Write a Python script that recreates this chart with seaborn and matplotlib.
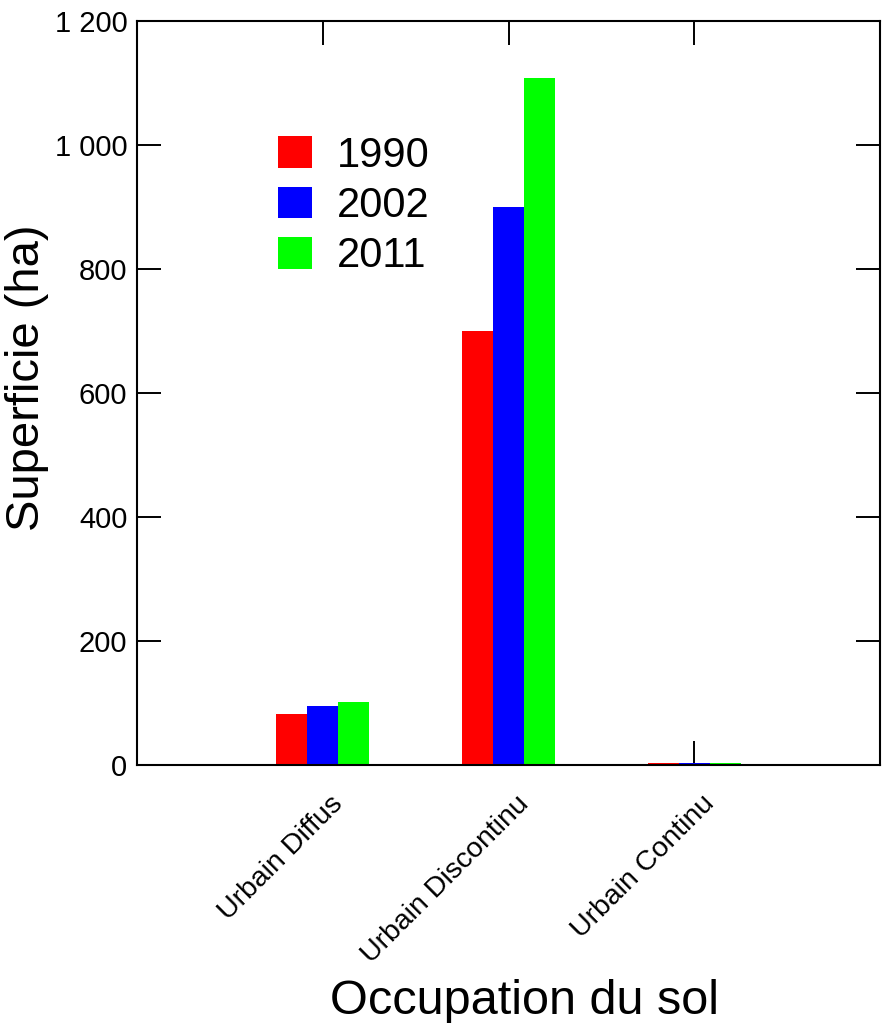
import matplotlib
matplotlib.use("Agg")
import matplotlib.pyplot as plt
import matplotlib.transforms as mtransforms
from matplotlib.ticker import FuncFormatter
import seaborn as sns
import pandas as pd

# Land-use categories and areas (ha) per survey year
categories = ["Urbain Diffus", "Urbain Discontinu", "Urbain Continu"]
years = ["1990", "2002", "2011"]
area_1990 = [82, 700, 3.0]
area_2002 = [95, 900, 2.5]
area_2011 = [101, 1108, 3.0]
colors = ["#ff0000", "#0000ff", "#00ff00"]
y_ticks = [0, 200, 400, 600, 800, 1000, 1200]

rows = []
for year, values in zip(years, [area_1990, area_2002, area_2011]):
    for cat, v in zip(categories, values):
        rows.append({"Occupation": cat, "Année": year, "Superficie": v})
df = pd.DataFrame(rows)

sns.set_theme(style="white")
plt.rcParams["font.family"] = ["Liberation Sans", "DejaVu Sans"]
plt.rcParams["text.color"] = "black"
plt.rcParams["axes.labelcolor"] = "black"
plt.rcParams["xtick.color"] = "black"
plt.rcParams["ytick.color"] = "black"

fig = plt.figure(figsize=(8.85, 10.23), dpi=100)
ax = fig.add_axes([0.1548, 0.2522, 0.8396, 0.7273])

sns.barplot(data=df, x="Occupation", y="Superficie", hue="Année",
            order=categories, hue_order=years, palette=colors,
            width=0.5, gap=0, saturation=1, linewidth=0, ax=ax)

ax.set_xlim(-1, 3)
ax.set_ylim(0, 1200)
ax.set_yticks(y_ticks)
ax.yaxis.set_major_formatter(FuncFormatter(lambda v, p: f"{int(v):,}".replace(",", " ")))

for s in ax.spines.values():
    s.set_visible(True)
    s.set_color("black")
    s.set_linewidth(1.5)

ax.tick_params(axis="both", which="major", direction="in", length=17, width=1.4,
               color="black", labelcolor="black",
               top=True, right=True, bottom=True, left=True)
ax.tick_params(axis="y", labelsize=21, pad=7)
ax.tick_params(axis="x", labelsize=20.5, pad=4)

offset = mtransforms.ScaledTranslation(0.07, -0.2, fig.dpi_scale_trans)
for lbl in ax.get_xticklabels():
    lbl.set_rotation(45)
    lbl.set_ha("right")
    lbl.set_va("top")
    lbl.set_rotation_mode("anchor")
    lbl.set_transform(lbl.get_transform() + offset)

ax.set_xlabel("Occupation du sol", fontsize=35, color="black")
ax.xaxis.set_label_coords(0.522, -0.288)
ax.set_ylabel("Superficie (ha)", fontsize=34, color="black")
ax.yaxis.set_label_coords(-0.118, 0.52)

leg = ax.legend(loc="upper left", bbox_to_anchor=(0.19, 0.846), frameon=False,
                fontsize=30, handlelength=0.8, handleheight=0.8, handletextpad=0.6,
                labelspacing=0.25, borderpad=0, borderaxespad=0)
for t in leg.get_texts():
    t.set_color("black")

fig.savefig("out.png", dpi=100)
